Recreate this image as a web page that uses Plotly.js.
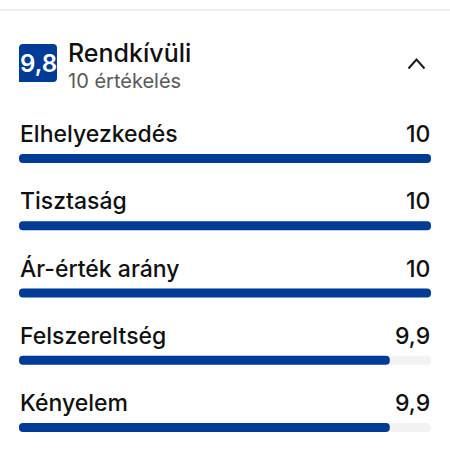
<!DOCTYPE html>
<html><head><meta charset="utf-8">
<script src="https://cdn.plot.ly/plotly-3.0.1.min.js"></script>
<style>html,body{margin:0;padding:0;background:#fff;}#chart{width:450px;height:450px;}</style>
</head><body><div id="chart"></div>
<script>
const categories = ["Elhelyezkedés", "Tisztaság", "Ár-érték arány", "Felszereltség", "Kényelem"];
const scores = [10, 10, 10, 9.9, 9.9];
const scoreLabels = ["10", "10", "10", "9,9", "9,9"];
const overallScore = "9,8";
const overallLabel = "Rendkívüli";
const reviewCount = "10 értékelés";
const AXIS_MIN = 9, AXIS_MAX = 10;

const W = 450, H = 450;
const px = x => x / W;
const py = y => 1 - y / H;
const FONT = "Inter, 'Noto Sans', Arial, sans-serif";
const BLUE = '#003b95';

const track = {
  type: 'bar', orientation: 'h', y: categories,
  x: categories.map(() => AXIS_MAX - AXIS_MIN), base: AXIS_MIN,
  width: 0.134, marker: {color: '#f2f2f2', cornerradius: 4.5},
  hoverinfo: 'skip', showlegend: false
};
const fill = {
  type: 'bar', orientation: 'h', y: categories,
  x: scores.map(s => s - AXIS_MIN), base: AXIS_MIN,
  width: 0.134, marker: {color: BLUE, cornerradius: 4.5},
  hoverinfo: 'skip', showlegend: false
};

const annotations = [];
categories.forEach((c, i) => {
  annotations.push({xref: 'paper', yref: 'y', x: px(18), y: c, yshift: 24.5,
    xanchor: 'left', yanchor: 'middle', showarrow: false, text: c,
    font: {family: FONT, size: 23, color: '#111111', weight: 500}});
  annotations.push({xref: 'paper', yref: 'y', x: px(432), y: c, yshift: 24.5,
    xanchor: 'right', yanchor: 'middle', showarrow: false, text: scoreLabels[i],
    font: {family: FONT, size: 23, color: '#111111', weight: 500}});
});
annotations.push({xref: 'paper', yref: 'paper', x: px(38), y: py(63.5), xanchor: 'center', yanchor: 'middle',
  showarrow: false, text: overallScore, font: {family: FONT, size: 24, color: '#ffffff', weight: 600}});
annotations.push({xref: 'paper', yref: 'paper', x: px(65.5), y: py(53), xanchor: 'left', yanchor: 'middle',
  showarrow: false, text: overallLabel, font: {family: FONT, size: 25, color: '#111111', weight: 500}});
annotations.push({xref: 'paper', yref: 'paper', x: px(66), y: py(81), xanchor: 'left', yanchor: 'middle',
  showarrow: false, text: reviewCount, font: {family: FONT, size: 20, color: '#595959'}});

const r = 4;
const bx0 = 19, bx1 = 57, by0 = 44, by1 = 82;
const badgePath = [
  `M ${px(bx0)},${py(by1)}`,
  `L ${px(bx0)},${py(by0 + r)}`,
  `Q ${px(bx0)},${py(by0)} ${px(bx0 + r)},${py(by0)}`,
  `L ${px(bx1 - r)},${py(by0)}`,
  `Q ${px(bx1)},${py(by0)} ${px(bx1)},${py(by0 + r)}`,
  `L ${px(bx1)},${py(by1 - r)}`,
  `Q ${px(bx1)},${py(by1)} ${px(bx1 - r)},${py(by1)}`,
  'Z'
].join(' ');

const shapes = [
  {type: 'line', xref: 'paper', yref: 'paper', x0: 0, x1: 1, y0: py(10), y1: py(10),
    line: {color: '#e8e8e8', width: 1.5}},
  {type: 'path', xref: 'paper', yref: 'paper', path: badgePath, fillcolor: BLUE, line: {width: 0}},
  {type: 'path', xref: 'paper', yref: 'paper',
    path: `M ${px(408.5)},${py(68.5)} L ${px(416.5)},${py(59.5)} L ${px(424.5)},${py(68.5)}`,
    line: {color: '#1a1a1a', width: 2}}
];

const layout = {
  width: W, height: H, margin: {l: 0, r: 0, t: 0, b: 0},
  paper_bgcolor: '#ffffff', plot_bgcolor: '#ffffff',
  barmode: 'overlay', showlegend: false,
  xaxis: {domain: [px(19), px(431)], range: [AXIS_MIN, AXIS_MAX], visible: false, fixedrange: true},
  yaxis: {type: 'category', domain: [0, 1], range: [4 + 22.5 / 67.25, -158.5 / 67.25],
    visible: false, fixedrange: true},
  annotations: annotations, shapes: shapes
};

Plotly.newPlot('chart', [track, fill], layout, {displayModeBar: false, staticPlot: true});
</script>
</body></html>
